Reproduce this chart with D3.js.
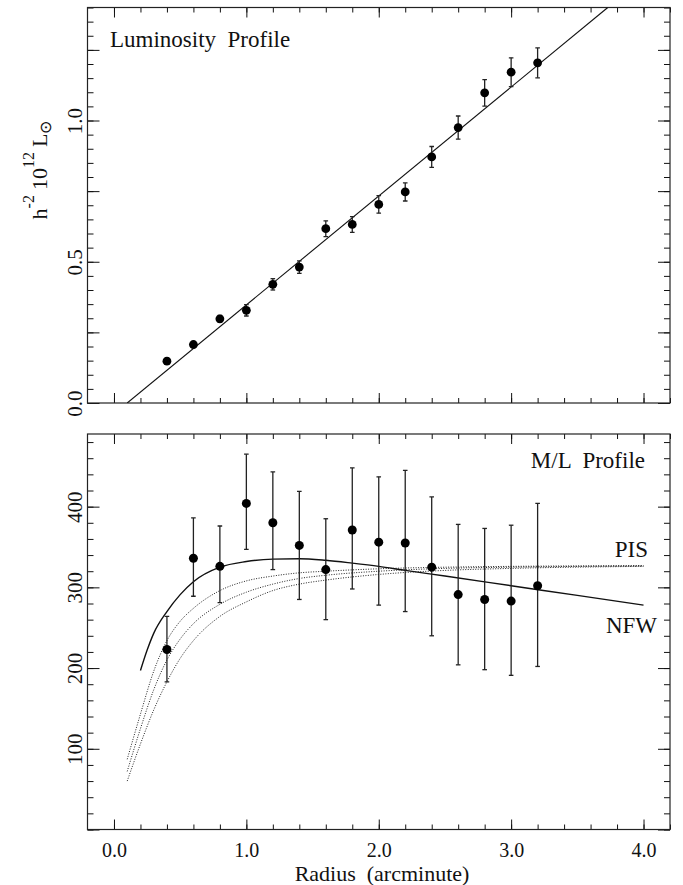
<!DOCTYPE html>
<html>
<head>
<meta charset="utf-8">
<script src="https://cdn.jsdelivr.net/npm/d3@7"></script>
<style>
  body { margin: 0; background: #fff; }
  svg { display: block; }
  svg text { font-family: "Liberation Serif", "Times New Roman", serif; fill: #111; }
</style>
</head>
<body>
<svg id="chart"></svg>
<script>
// radius bins (arcminute)
const radius = [0.4, 0.6, 0.8, 1.0, 1.2, 1.4, 1.6, 1.8, 2.0, 2.2, 2.4, 2.6, 2.8, 3.0, 3.2];

// luminosity profile (h^-2 10^12 Lsun)
const lum    = [0.148, 0.207, 0.298, 0.328, 0.420, 0.481, 0.617, 0.632, 0.703, 0.747, 0.871, 0.975, 1.098, 1.171, 1.204];
const lumErr = [0.010, 0.010, 0.012, 0.020, 0.020, 0.022, 0.028, 0.028, 0.031, 0.032, 0.037, 0.041, 0.047, 0.051, 0.053];
// straight fit, end points
const lumFitR = [0.1, 3.73];
const lumFitV = [0.0, 1.4];

// M/L profile
const ml    = [223, 336, 326, 404, 380, 352, 322, 371, 356, 355, 325, 291, 285, 283, 302];
const mlTop = [264, 386, 376, 465, 443, 419, 385, 448, 437, 445, 412, 378, 373, 377, 404];
const mlBot = [183, 289, 281, 347, 322, 285, 260, 298, 278, 270, 240, 204, 198, 191, 202];

// NFW model (solid)
const nfwR = [0.2, 0.25, 0.3, 0.4, 0.5, 0.6, 0.8, 1.0, 1.2, 1.4, 1.6, 1.8, 2.0, 2.2, 2.5, 3.0, 3.5, 4.0];
const nfwV = [197, 222, 243, 270, 291, 307, 325, 332, 335, 335.5, 333.5, 330, 326, 321, 314, 302, 290, 278];

// PIS models (dotted)
const pisR  = [0.1, 0.2, 0.3, 0.4, 0.5, 0.6, 0.8, 1.0, 1.2, 1.4, 1.6, 2.0, 2.5, 3.0, 4.0];
const pisV1 = [87, 143, 196, 234, 258, 274, 296, 308, 314, 318, 320, 323, 325, 326, 327];
const pisV2 = [72, 125, 173, 210, 236, 255, 279, 294, 304, 311, 315, 320, 323.5, 325, 326.5];
const pisV3 = [60, 106, 148, 183, 212, 234, 264, 282, 296, 304, 309, 316, 321, 323.5, 326];

const xLabels = [0, 1, 2, 3, 4];
const topLabels = [0, 0.5, 1.0];
const botLabels = [100, 200, 300, 400];

// ===============================
// SETUP
// ===============================
const width = 683, height = 885;
const svg = d3.select("#chart").attr("width", width).attr("height", height);
svg.append("rect").attr("width", width).attr("height", height).attr("fill", "#fff");

const left = 87.5, right = 670;
const x = d3.scaleLinear().domain([-0.2, 4.2]).range([left, right]);
const yTop = d3.scaleLinear().domain([0, 1.4]).range([403, 7.5]);
const yBot = d3.scaleLinear().domain([0, 490]).range([829.5, 434]);

const xMinor = d3.range(0, 4.21, 0.2);

function frame(y, yMinor, yMajor) {
  const [y0, y1] = y.range();
  const g = svg.append("g");

  const ax = (axis, tr) => g.append("g")
    .attr("transform", tr)
    .call(axis.tickFormat(""))
    .call(a => a.select(".domain").remove())
    .call(a => a.selectAll("line").attr("stroke", "#111").attr("stroke-width", 1));

  // x ticks, bottom and top, pointing inward
  ax(d3.axisBottom(x).tickValues(xMinor).tickSize(-5), `translate(0,${y0})`);
  ax(d3.axisBottom(x).tickValues(xLabels).tickSize(-10), `translate(0,${y0})`);
  ax(d3.axisTop(x).tickValues(xMinor).tickSize(-5), `translate(0,${y1})`);
  ax(d3.axisTop(x).tickValues(xLabels).tickSize(-10), `translate(0,${y1})`);
  // y ticks, left and right
  ax(d3.axisLeft(y).tickValues(yMinor).tickSize(-6), `translate(${left},0)`);
  ax(d3.axisLeft(y).tickValues(yMajor).tickSize(-12), `translate(${left},0)`);
  ax(d3.axisRight(y).tickValues(yMinor).tickSize(-6), `translate(${right},0)`);
  ax(d3.axisRight(y).tickValues(yMajor).tickSize(-12), `translate(${right},0)`);

  g.append("rect")
    .attr("x", left).attr("y", y1)
    .attr("width", right - left).attr("height", y0 - y1)
    .attr("fill", "none").attr("stroke", "#222").attr("stroke-width", 1.2);
}

function yTickLabels(y, values, fmt) {
  svg.append("g")
    .attr("transform", `translate(${left},0)`)
    .call(d3.axisLeft(y).tickValues(values).tickSize(0).tickFormat(fmt))
    .call(a => a.select(".domain").remove())
    .selectAll("text")
    .attr("x", 0).attr("dy", 0)
    .attr("text-anchor", "middle")
    .attr("transform", "translate(-6,0) rotate(-90)")
    .style("font-size", "21px");
}

function errorBars(g, y, lo, hi) {
  const cap = 2.3;
  radius.forEach((r, i) => {
    const cx = x(r);
    g.append("line").attr("x1", cx).attr("x2", cx)
      .attr("y1", y(lo[i])).attr("y2", y(hi[i]));
    g.append("line").attr("x1", cx - cap).attr("x2", cx + cap)
      .attr("y1", y(lo[i])).attr("y2", y(lo[i]));
    g.append("line").attr("x1", cx - cap).attr("x2", cx + cap)
      .attr("y1", y(hi[i])).attr("y2", y(hi[i]));
  });
  g.attr("stroke", "#222").attr("stroke-width", 1.3);
}

// clip paths for each panel
const defs = svg.append("defs");
defs.append("clipPath").attr("id", "clipTop").append("rect")
  .attr("x", left).attr("y", 7.5).attr("width", right - left).attr("height", 403 - 7.5);
defs.append("clipPath").attr("id", "clipBot").append("rect")
  .attr("x", left).attr("y", 434).attr("width", right - left).attr("height", 829.5 - 434);

// ===============================
// TOP PANEL: LUMINOSITY
// ===============================
frame(yTop, d3.range(0, 1.41, 0.05), d3.range(0, 1.41, 0.25));
yTickLabels(yTop, topLabels, d3.format(".1f"));

const topG = svg.append("g").attr("clip-path", "url(#clipTop)");

topG.append("path")
  .datum(lumFitR.map((r, i) => [r, lumFitV[i]]))
  .attr("fill", "none").attr("stroke", "#111").attr("stroke-width", 1.1)
  .attr("d", d3.line().x(d => x(d[0])).y(d => yTop(d[1])));

errorBars(topG.append("g"), yTop,
  lum.map((v, i) => v - lumErr[i]), lum.map((v, i) => v + lumErr[i]));

topG.selectAll("circle").data(radius).join("circle")
  .attr("cx", d => x(d)).attr("cy", (d, i) => yTop(lum[i]))
  .attr("r", 4.4).attr("fill", "#000");

svg.append("text")
  .attr("x", 110).attr("y", 47)
  .style("font-size", "23px")
  .attr("xml:space", "preserve")
  .text("Luminosity  Profile");

// y axis title
const yTitle = svg.append("text")
  .attr("text-anchor", "middle")
  .attr("transform", "translate(47,170) rotate(-90)")
  .style("font-size", "22px");
yTitle.append("tspan").text("h");
yTitle.append("tspan").attr("dy", -13).style("font-size", "16px").text("-2");
yTitle.append("tspan").attr("dy", 13).attr("dx", 5).text("10");
yTitle.append("tspan").attr("dy", -13).style("font-size", "16px").text("12");
yTitle.append("tspan").attr("dy", 13).attr("dx", 5).text("L");
yTitle.append("tspan").attr("dy", 4).style("font-size", "16px").text("\u2299");

// ===============================
// BOTTOM PANEL: M/L
// ===============================
frame(yBot, d3.range(0, 490, 20), d3.range(0, 490, 100));
yTickLabels(yBot, botLabels, d3.format("d"));

const botG = svg.append("g").attr("clip-path", "url(#clipBot)");

const mline = d3.line().x(d => x(d[0])).y(d => yBot(d[1])).curve(d3.curveMonotoneX);

[pisV1, pisV2, pisV3].forEach(vals => {
  botG.append("path")
    .datum(pisR.map((r, i) => [r, vals[i]]))
    .attr("fill", "none").attr("stroke", "#222").attr("stroke-width", 1)
    .attr("stroke-dasharray", "1,1.5")
    .attr("d", mline);
});

botG.append("path")
  .datum(nfwR.map((r, i) => [r, nfwV[i]]))
  .attr("fill", "none").attr("stroke", "#111").attr("stroke-width", 1.4)
  .attr("d", mline);

errorBars(botG.append("g"), yBot, mlBot, mlTop);

botG.selectAll("circle").data(radius).join("circle")
  .attr("cx", d => x(d)).attr("cy", (d, i) => yBot(ml[i]))
  .attr("r", 4.5).attr("fill", "#000");

svg.append("text")
  .attr("x", 645).attr("y", 468).attr("text-anchor", "end")
  .style("font-size", "23px")
  .attr("xml:space", "preserve")
  .text("M/L  Profile");

svg.append("text")
  .attr("x", 648).attr("y", 557).attr("text-anchor", "end")
  .style("font-size", "23px").text("PIS");

svg.append("text")
  .attr("x", 657).attr("y", 633).attr("text-anchor", "end")
  .style("font-size", "23px").text("NFW");

// x tick labels + title
svg.append("g")
  .attr("transform", `translate(0,829.5)`)
  .call(d3.axisBottom(x).tickValues(xLabels).tickSize(0).tickFormat(d3.format(".1f")))
  .call(a => a.select(".domain").remove())
  .selectAll("text")
  .attr("y", 27).attr("dy", 0)
  .style("font-size", "20px");

svg.append("text")
  .attr("x", 382).attr("y", 881).attr("text-anchor", "middle")
  .style("font-size", "22px")
  .attr("xml:space", "preserve")
  .text("Radius  (arcminute)");
</script>
</body>
</html>
